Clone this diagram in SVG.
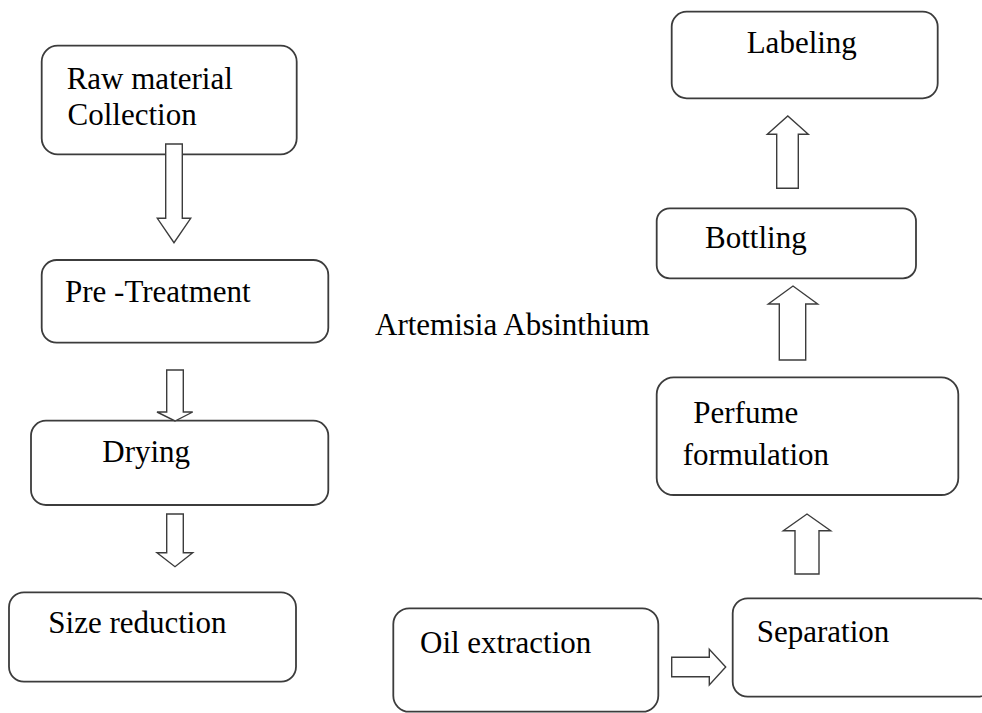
<svg xmlns="http://www.w3.org/2000/svg" width="982" height="713" viewBox="0 0 982 713">
<style>
.box{fill:#fff;stroke:#3c3c3c;stroke-width:1.8}
.arr{fill:#fff;stroke:#3c3c3c;stroke-width:1.4;stroke-linejoin:miter}
.t{font-family:'Liberation Serif','Times New Roman','DejaVu Serif',serif;font-size:31px;fill:#000}
</style>
<rect width="982" height="713" fill="#fff"/>
<g id="n-raw"><rect class="box" x="41.7" y="45.7" width="255" height="108.6" rx="16"/><text class="t" x="66.7" y="89">Raw material</text><text class="t" x="67.5" y="125">Collection</text></g>
<g id="n-pre"><rect class="box" x="41.7" y="260" width="286.6" height="82.7" rx="15"/><text class="t" x="65" y="301.7">Pre -Treatment</text></g>
<g id="n-dry"><rect class="box" x="31" y="420.7" width="297.3" height="84.3" rx="15"/><text class="t" x="102.3" y="461.7">Drying</text></g>
<g id="n-size"><rect class="box" x="9" y="592.3" width="287" height="89.4" rx="15"/><text class="t" x="48.3" y="633.3">Size reduction</text></g>
<g id="n-label"><rect class="box" x="671.7" y="11.7" width="266" height="86.6" rx="15"/><text class="t" x="746.7" y="53.3">Labeling</text></g>
<g id="n-bottle"><rect class="box" x="656.7" y="208.3" width="259.3" height="70" rx="13"/><text class="t" x="705" y="248.3">Bottling</text></g>
<g id="n-perf"><rect class="box" x="656.7" y="377.3" width="301.6" height="117.7" rx="17"/><text class="t" x="693.3" y="423.3">Perfume</text><text class="t" x="682.7" y="465">formulation</text></g>
<g id="n-oil"><rect class="box" x="393.3" y="608.3" width="265" height="103.4" rx="16"/><text class="t" x="420" y="652.7">Oil extraction</text></g>
<g id="n-sep"><rect class="box" x="732.7" y="598.3" width="260" height="98.4" rx="15"/><text class="t" x="756.7" y="641.7">Separation</text></g>
<g id="title"><text class="t" x="375" y="335">Artemisia Absinthium</text></g>
<g id="connectors">
<polygon class="arr" points="165.7,144 182.3,144 182.3,218.3 190.7,218.3 174,242.7 157.3,218.3 165.7,218.3"/>
<polygon class="arr" points="166.7,370 183.3,370 183.3,412 192.7,412 175,421 157,412 166.7,412"/>
<polygon class="arr" points="166.7,514 183.3,514 183.3,552.7 192.7,552.7 175,566.7 157,552.7 166.7,552.7"/>
<polygon class="arr" points="776.7,188.3 798.3,188.3 798.3,134.3 808.3,134.3 787.8,116 767.3,134.3 776.7,134.3"/>
<polygon class="arr" points="779.3,360 805.7,360 805.7,304 817.7,304 793,286 768.3,304 779.3,304"/>
<polygon class="arr" points="795,574 819,574 819,530.7 830.7,530.7 807,514 783.3,530.7 795,530.7"/>
<polygon class="arr" points="671.7,657.3 709.3,657.3 709.3,649.3 725.7,667 709.3,685 709.3,676.7 671.7,676.7"/>
</g>
</svg>
